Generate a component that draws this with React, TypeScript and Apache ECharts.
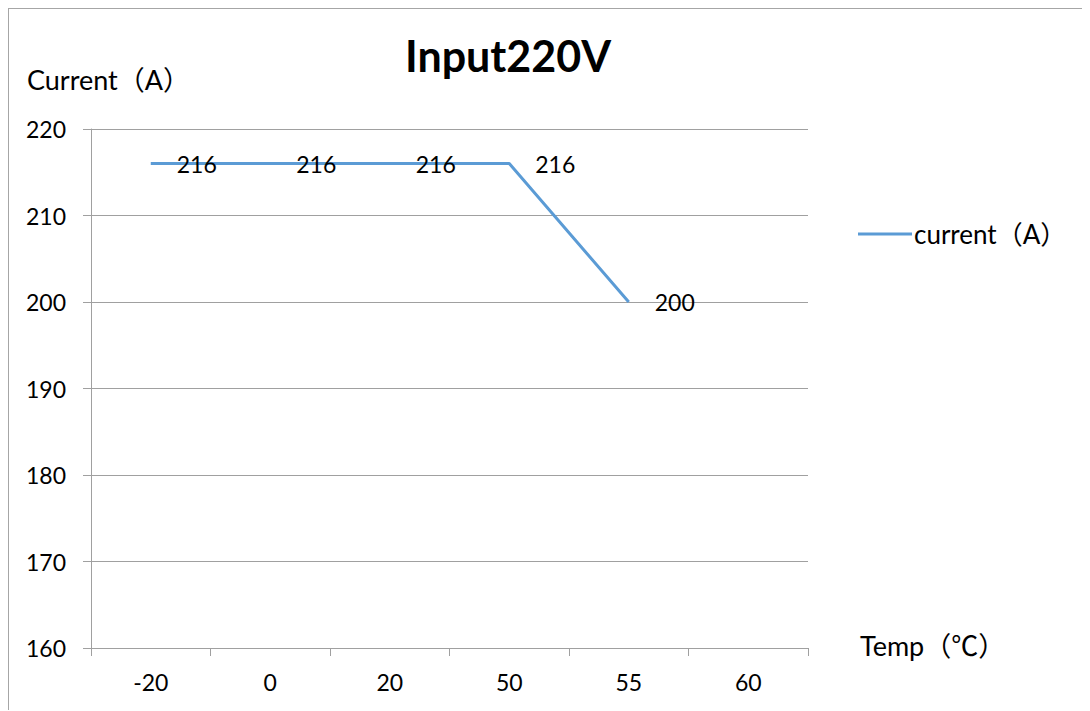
import React, { useEffect, useRef } from "react";
import * as echarts from "echarts";

const categories = ["-20", "0", "20", "50", "55", "60"];
const currentValues: (number | null)[] = [216, 216, 216, 216, 200, null];
const yTicks = { min: 160, max: 220, interval: 10 };

const FONT = "Lato, 'Noto Sans CJK SC', sans-serif";
const GRAY = "#A0A0A0";

export default function App() {
  const ref = useRef<HTMLDivElement>(null);
  useEffect(() => {
    if (!ref.current) return;
    const chart = echarts.init(ref.current, undefined, { renderer: "svg" });
    chart.setOption({
      animation: false,
      textStyle: { fontFamily: FONT, color: "#000" },
      grid: { left: 83, top: 122, right: 282, bottom: 62, containLabel: false },
      graphic: [
        {
          type: "line",
          shape: { x1: 0, y1: 1, x2: 1082, y2: 1 },
          style: { stroke: "#A6A6A6", lineWidth: 2 },
          silent: true,
        },
        {
          type: "line",
          shape: { x1: 0.5, y1: 0, x2: 0.5, y2: 703 },
          style: { stroke: "#A6A6A6", lineWidth: 1 },
          silent: true,
        },
        {
          type: "text",
          left: 397,
          top: 27,
          style: { text: "Input220V", font: `bold 43px ${FONT}`, fill: "#000" },
        },
        {
          type: "text",
          left: 19,
          top: 59,
          style: { text: "Current（A）", font: `27px ${FONT}`, fill: "#000" },
        },
        {
          type: "text",
          left: 852,
          top: 625,
          style: { text: "Temp（℃）", font: `27px ${FONT}`, fill: "#000" },
        },
      ],
      legend: {
        left: 845,
        top: 209,
        orient: "vertical",
        icon: "rect",
        itemWidth: 54,
        itemHeight: 3,
        itemGap: 5,
        textStyle: { fontFamily: FONT, fontSize: 26, color: "#000", padding: [0, 0, 0, -3] },
        data: ["current（A）"],
      },
      xAxis: {
        type: "category",
        data: categories,
        boundaryGap: true,
        axisLine: { show: true, lineStyle: { color: GRAY, width: 1 } },
        axisTick: { show: true, interval: 0, length: 8, lineStyle: { color: GRAY } },
        axisLabel: { fontFamily: FONT, fontSize: 23, color: "#000", margin: 22, interval: 0 },
        splitLine: { show: false },
      },
      yAxis: {
        type: "value",
        min: yTicks.min,
        max: yTicks.max,
        interval: yTicks.interval,
        axisLine: { show: true, lineStyle: { color: GRAY, width: 1 } },
        axisTick: { show: true, length: 8, lineStyle: { color: GRAY } },
        axisLabel: { fontFamily: FONT, fontSize: 23, color: "#000", margin: 25 },
        splitLine: { show: true, lineStyle: { color: GRAY, width: 1 } },
      },
      series: [
        {
          name: "current（A）",
          type: "line",
          data: currentValues,
          symbol: "circle",
          symbolSize: 0,
          showSymbol: true,
          itemStyle: { color: "#5B9BD5" },
          color: "#5B9BD5",
          lineStyle: { color: "#5B9BD5", width: 3 },
          label: {
            show: true,
            position: "right",
            distance: 26,
            fontFamily: FONT,
            fontSize: 23,
            color: "#000",
          },
        },
      ],
    });
    return () => chart.dispose();
  }, []);
  return (
    <div
      ref={ref}
      style={{ width: 1082, height: 703, position: "relative", top: -1 }}
    />
  );
}
